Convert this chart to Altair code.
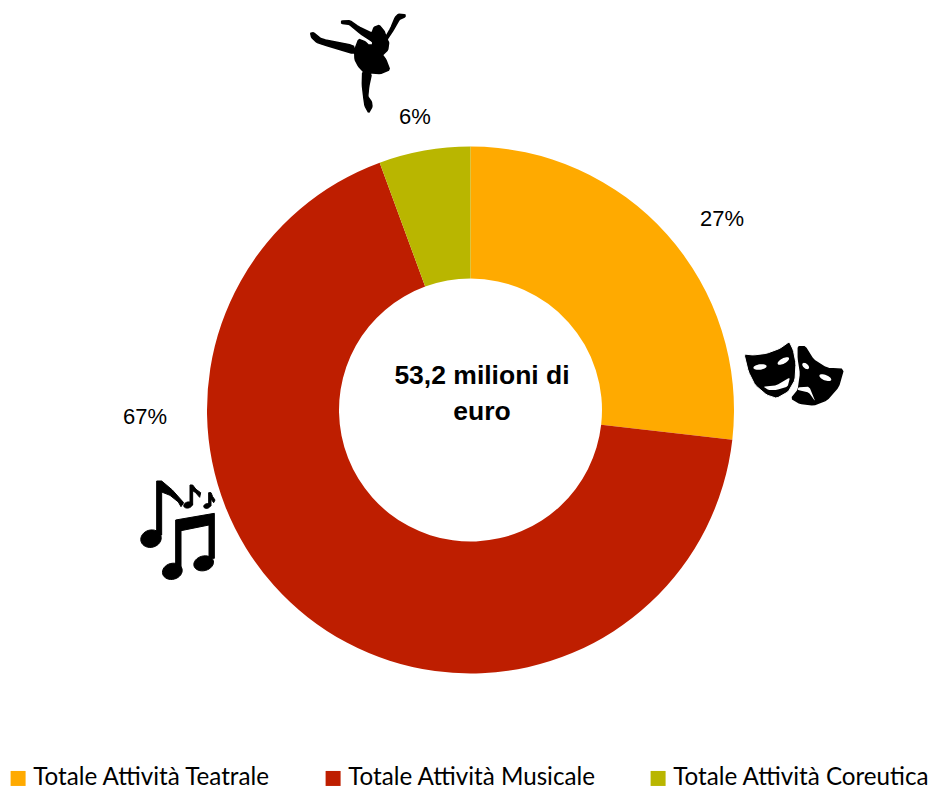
import math
import altair as alt
import pandas as pd

CATEGORIES = ["Totale Attività Teatrale", "Totale Attività Musicale", "Totale Attività Coreutica"]
SHARES = [26.8, 67.6, 5.6]
COLORS = ["#FFAA00", "#BE1E00", "#B9B600"]
PERCENT_LABELS = ["27%", "67%", "6%"]
CENTER_LABEL = "53,2 milioni di\neuro"

PAGE = 8
CX, CY = 470.5 - PAGE, 410 - PAGE


def smooth(pts, n=1):
    for _ in range(n):
        out = []
        for i, p in enumerate(pts):
            q = pts[(i + 1) % len(pts)]
            out.append((0.88 * p[0] + 0.12 * q[0], 0.88 * p[1] + 0.12 * q[1]))
            out.append((0.12 * p[0] + 0.88 * q[0], 0.12 * p[1] + 0.88 * q[1]))
        pts = out
    return pts


def ell(cx, cy, rx, ry, rot=0.0):
    c, s = math.cos(math.radians(rot)), math.sin(math.radians(rot))
    pts = []
    for k in range(32):
        a = 2 * math.pi * k / 32
        x, y = rx * math.cos(a), ry * math.sin(a)
        pts.append((cx + x * c - y * s, cy + x * s + y * c))
    return pts


def to_path(polys, ox, oy, cx, cy):
    # polys are zoomed (3x) glyph outlines, with origin ox, oy
    parts = []
    for poly in polys:
        d = [f"{(ox + x / 3 - cx):.2f} {(oy + y / 3 - cy):.2f}" for x, y in poly]
        parts.append("M" + " L".join(d) + " Z")
    return " ".join(parts)


# --- pictogram outlines ---
DANCER = [
    smooth([(345, 44), (325, 43), (316, 52), (302, 85), (288, 110), (282, 93), (268, 76), (252, 82), (246, 100),
            (205, 80), (180, 62), (155, 63), (155, 70), (178, 73), (210, 100), (248, 125), (248, 135),
            (235, 135), (225, 125), (206, 118), (194, 150), (195, 178), (205, 198), (222, 216), (245, 219),
            (270, 221), (299, 209), (287, 178), (277, 165), (293, 150), (296, 128), (291, 118), (310, 90),
            (328, 58), (345, 50)]),
    smooth([(62, 100), (70, 98), (95, 118), (190, 136), (195, 162), (100, 134), (80, 127), (65, 112)]),
    smooth([(218, 215), (244, 222), (236, 260), (233, 290), (244, 305), (246, 320), (236, 338), (225, 318),
            (221, 290), (217, 255)]),
]
MASK_BACK = [smooth([(205, 50), (225, 50), (250, 90), (290, 115), (340, 118), (325, 170), (290, 210), (250, 225),
                     (210, 220), (185, 205), (205, 180), (212, 130), (205, 85)])]
MASK_FRONT = [smooth([(42, 72), (70, 75), (110, 70), (150, 55), (178, 35), (190, 60), (198, 100), (195, 150),
                      (175, 185), (140, 205), (110, 195), (75, 165), (55, 125)])]
MASK_HOLES = [
    ell(90, 111, 20, 8, -8),
    ell(160, 93, 19, 8, -28),
    smooth([(100, 170), (140, 166), (180, 142), (173, 170), (140, 180), (115, 180)]),
    ell(227, 108, 12, 7, 40),
    ell(286, 143, 19, 8, 22),
    smooth([(205, 172), (238, 170), (256, 215), (237, 188), (203, 180)]),
]
NOTES = [
    [(95, 33), (110, 33), (142, 60), (176, 98), (168, 110), (160, 96), (135, 76), (110, 66), (110, 195), (95, 195)],
    ell(78, 206, 31, 26, -15),
    [(152, 150), (268, 130), (268, 265), (252, 265), (252, 165), (168, 182), (168, 300), (152, 300)],
    ell(142, 304, 30, 24, -15),
    ell(236, 280, 30, 22, -15),
    [(195, 45), (203, 45), (213, 58), (227, 68), (224, 82), (212, 68), (203, 62), (203, 105), (195, 105)],
    ell(189, 105, 13, 9, -15),
    [(251, 68), (258, 68), (263, 80), (270, 90), (266, 98), (258, 87), (258, 108), (251, 108)],
    ell(246, 108, 10, 7, -15),
]

one = pd.DataFrame({"k": [0]})


def icon(polys, ox, oy, cx, cy, fill="#000000", stroke=None, sw=0):
    kw = dict(shape=to_path(polys, ox, oy, cx, cy), filled=True, color=fill, size=4, opacity=1, fillOpacity=1)
    if stroke:
        kw.update(stroke=stroke, strokeWidth=sw, strokeOpacity=1)
    else:
        kw.update(strokeWidth=0)
    return alt.Chart(one).mark_point(**kw).encode(x=alt.value(cx - PAGE), y=alt.value(cy - PAGE))


def label(text, x, y, size, bold=False, line=None):
    kw = dict(font="Liberation Sans", fontSize=size, color="#000000", align="center", baseline="middle",
              fontWeight="bold" if bold else "normal")
    if line:
        kw.update(lineBreak="\n", lineHeight=line)
    return alt.Chart(pd.DataFrame({"t": [text]})).mark_text(**kw).encode(
        text="t:N", x=alt.value(x - PAGE), y=alt.value(y - PAGE))


df = pd.DataFrame({"cat": CATEGORIES, "share": SHARES, "order": range(len(SHARES))})

arc = alt.Chart(df).mark_arc(radius=263.5, radius2=131.5).encode(
    x=alt.value(CX),
    y=alt.value(CY),
    theta=alt.Theta("share:Q", stack=True, scale=alt.Scale(domain=[0, sum(SHARES)], range=[0, 2 * math.pi])),
    order=alt.Order("order:Q"),
    color=alt.Color(
        "cat:N",
        scale=alt.Scale(domain=CATEGORIES, range=COLORS),
        legend=alt.Legend(
            title=None, orient="none", legendX=-2, legendY=758, direction="horizontal", columns=3,
            symbolType="square", symbolSize=225, symbolStrokeWidth=0, symbolOpacity=1,
            labelFont="Lato", labelFontSize=24.2, labelColor="#000000", labelOffset=3, labelLimit=400,
            columnPadding=50, padding=0, offset=0,
        ),
    ),
)

layers = [
    arc,
    label(PERCENT_LABELS[0], 722, 219, 22),
    label(PERCENT_LABELS[1], 145, 417, 22),
    label(PERCENT_LABELS[2], 415, 117, 22),
    label(CENTER_LABEL, 482, 376, 26.5, bold=True, line=36),
    icon(DANCER, 290, 0, 360, 60, stroke="#000000", sw=1.5),
    icon(MASK_BACK, 730, 330, 795, 373, stroke="#000000", sw=1.5),
    icon(MASK_FRONT, 730, 330, 775, 372, stroke="#FFFFFF", sw=1),
    icon(MASK_HOLES, 730, 330, 790, 375, fill="#FFFFFF"),
    icon(NOTES, 125, 470, 178, 530, stroke="#000000", sw=1),
]

chart = alt.layer(*layers).properties(
    width=926, height=781, padding=0, background="#FFFFFF",
    autosize=alt.AutoSizeParams(type="none"),
).configure_view(stroke=None)

chart.save("out.html", embed_options={"renderer": "svg", "actions": False})
